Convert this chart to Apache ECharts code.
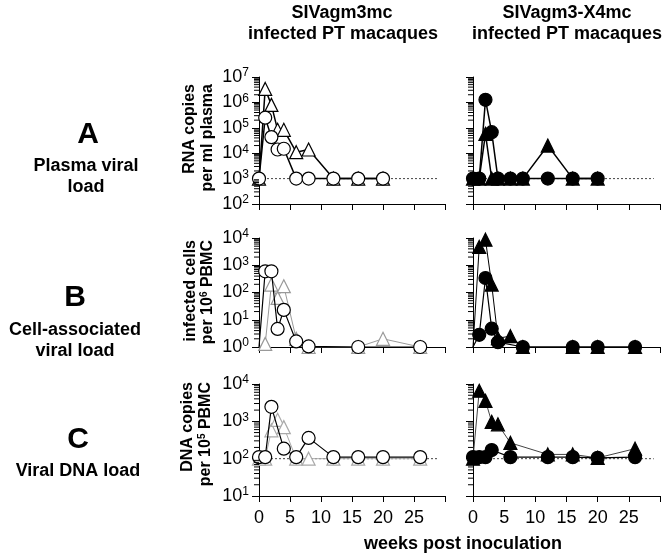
<!DOCTYPE html>
<html><head><meta charset="utf-8">
<script src="https://cdn.jsdelivr.net/npm/echarts@6/dist/echarts.min.js"></script>
<style>html,body{margin:0;padding:0;background:#fff}#c{width:664px;height:558px}</style>
</head><body><div id="c"></div>
<script>
// ---- data (weeks post inoculation / values) ----
// Row A: plasma RNA copies per ml
const aLCircW = [0,1,2,3,4,6,8,12,16,20];
const aLCirc  = [1000,250000,43000,14000,15000,1000,1000,1000,1000,1000];
const aLTriW  = [0,1,2,3,4,6,8,12,16,20];
const aLTri   = [1000,3400000,800000,83000,83000,11000,14000,1000,1000,1000];
const aRCircW = [0,1,2,3,4,6,8,12,16,20];
const aRCirc  = [1000,1000,1260000,67000,1000,1000,1000,1000,1000,1000];
const aRTriW  = [0,1,2,3,4,6,8,12,16,20];
const aRTri   = [1000,1000,58000,1000,1000,1000,1000,20000,1000,1000];
// Row B: infected cells per 10^6 PBMC
const bLCircW = [0,1,2,3,4,6,8,16,26];
const bLCirc  = [1,600,600,4.6,23,1.6,1.05,1,1];
const bLTriW  = [0,1,2,3,4,6,8,16,20,26];
const bLTri   = [1,1.3,195,63,170,2,1,1,2,1];
const bRCircW = [0,1,2,3,4,8,16,20,26];
const bRCirc  = [1,2.8,340,4.7,1.5,1,1,1,1];
const bRTriW  = [0,1,2,3,4,6,8,16,20,26];
const bRTri   = [1,4700,8700,195,2.1,2.5,1,1,1,1];
// Row C: DNA copies per 10^5 PBMC
const cLCircW = [0,1,2,4,6,8,12,16,20,26];
const cLCirc  = [110,110,2450,185,110,360,110,110,110,110];
const cLTriW  = [0,1,2,3,4,6,8,12,16,20,26];
const cLTri   = [100,100,575,1100,700,100,100,100,100,100,100];
const cRCircW = [0,1,2,3,6,12,16,20,26];
const cRCirc  = [110,110,110,170,110,110,110,105,110];
const cRTriW  = [0,1,2,3,4,6,12,16,20,26];
const cRTri   = [100,6600,3550,970,830,265,130,130,105,185];
// detection limits
const detA = 1000, detC = 100;
const xTicks = [0,5,10,15,20,25];
const minorMult = [2,3,4,5,6,7,8,9];

const FONT = 'Liberation Sans';
const chart = echarts.init(document.getElementById('c'), null, {renderer:'canvas'});

const colL = {left:259, width:186}, colR = {left:473, width:187};
const rows = [{top:77,height:127,min:1e2,max:1e7,e0:2,e1:7},{top:238,height:109,min:1,max:1e4,e0:0,e1:4},{top:384,height:112,min:10,max:1e4,e0:1,e1:4}];
const grids=[], xAxes=[], yAxes=[], gridExp=[];
rows.forEach((r,ri)=>{
  [colL,colR].forEach((c,ci)=>{
    grids.push({left:c.left,width:c.width,top:r.top,height:r.height,containLabel:false});
    const idx = grids.length-1;
    gridExp.push([r.e0,r.e1]);
    xAxes.push({type:'value',gridIndex:idx,min:0,max:30,interval:5,
      axisLine:{show:true,lineStyle:{color:'#000',width:1}},
      axisTick:{show:true,length:6,lineStyle:{color:'#000'}},
      splitLine:{show:false},
      axisLabel:{show:ri===2,margin:13,fontFamily:FONT,fontSize:18,color:'#000',
        formatter:v=>xTicks.indexOf(v)>=0?String(v):''}});
    yAxes.push({type:'log',logBase:10,gridIndex:idx,min:r.min,max:r.max,
      axisLine:{show:true,lineStyle:{color:'#000',width:1}},
      axisTick:{show:true,length:7,lineStyle:{color:'#000'}},
      splitLine:{show:false},
      axisLabel:{show:ci===0,margin:10,color:'#000',
        formatter:v=>'{b|10}{s|'+Math.round(Math.log10(v))+'}',
        rich:{b:{fontFamily:FONT,fontSize:18,color:'#000',lineHeight:20},
              s:{fontFamily:FONT,fontSize:12,color:'#000',verticalAlign:'top',lineHeight:20}}}});
  });
});

function pts(w,v){ return w.map((x,i)=>[x,v[i]]); }
function hideFirst(arr){ return arr.map((p,i)=>i===0?{value:p,symbol:'none'}:p); }
function ser(idx,data,sym,fill,stroke,lw,lineColor,z){
  return {type:'line',xAxisIndex:idx,yAxisIndex:idx,data:data,symbol:sym,symbolSize:13,
    showSymbol:true,animation:false,z:z,
    itemStyle:{color:fill,borderColor:stroke,borderWidth:1.2,opacity:1},
    lineStyle:{color:lineColor,width:lw}};
}
function det(idx,v){
  return {type:'line',xAxisIndex:idx,yAxisIndex:idx,data:[[0,v],[29,v]],symbol:'none',animation:false,z:1,
    lineStyle:{color:'#444',width:1,type:[2,2]}};
}
const series = [
  det(0,detA), det(1,detA), det(4,detC), det(5,detC),
  // A left
  ser(0,pts(aLTriW,aLTri),'triangle','#fff','#000',1.5,'#000',3),
  ser(0,pts(aLCircW,aLCirc),'circle','#fff','#000',1.5,'#000',4),
  // A right
  ser(1,pts(aRTriW,aRTri),'triangle','#000','#000',1.5,'#000',3),
  ser(1,pts(aRCircW,aRCirc),'circle','#000','#000',1.5,'#000',4),
  // B left
  ser(2,hideFirst(pts(bLTriW,bLTri)),'triangle','#fff','#999',1,'#999',3),
  ser(2,hideFirst(pts(bLCircW,bLCirc)),'circle','#fff','#000',1.2,'#000',4),
  // B right
  ser(3,hideFirst(pts(bRTriW,bRTri)),'triangle','#000','#000',1,'#000',3),
  ser(3,hideFirst(pts(bRCircW,bRCirc)),'circle','#000','#000',1.2,'#000',4),
  // C left
  ser(4,pts(cLTriW,cLTri),'triangle','#fff','#aaa',1,'#aaa',3),
  ser(4,pts(cLCircW,cLCirc),'circle','#fff','#000',1.2,'#000',4),
  // C right
  ser(5,pts(cRTriW,cRTri),'triangle','#000','#000',1,'#444',3),
  ser(5,pts(cRCircW,cRCirc),'circle','#000','#000',1.2,'#000',4)
];

function txt(x,y,t,size,rot,rich,align){
  return {type:'text',x:x,y:y,rotation:rot||0,silent:true,
    style:{text:t,fontFamily:FONT,fontWeight:'bold',fontSize:size,fill:'#000',
      align:align||'center',verticalAlign:'middle',rich:rich||undefined}};
}
const supRich = {a:{fontFamily:FONT,fontWeight:'bold',fontSize:16,fill:'#000',lineHeight:18},
                 s:{fontFamily:FONT,fontWeight:'bold',fontSize:10,fill:'#000',verticalAlign:'top',lineHeight:18}};
const R = Math.PI/2;
const graphic = [
  txt(342,13,'SIVagm3mc',18), txt(343,34,'infected PT macaques',18),
  txt(567,13,'SIVagm3-X4mc',18), txt(567,34,'infected PT macaques',18),
  txt(88,135,'A',30), txt(86,166,'Plasma viral',18), txt(86,187,'load',18),
  txt(75,298,'B',30), txt(75,330,'Cell-associated',18), txt(75,351,'viral load',18),
  txt(78,440,'C',30), txt(78,471,'Viral DNA load',18),
  txt(190,84,'RNA copies',16,R,null,'right'), txt(208,84,'per ml plasma',16,R,null,'right'),
  txt(191,240,'infected cells',16,R,null,'right'), txt(208,240,'{a|per 10}{s|6}{a| PBMC}',16,R,supRich,'right'),
  txt(188,382,'DNA copies',16,R,null,'right'), txt(206,382,'{a|per 10}{s|5}{a| PBMC}',16,R,supRich,'right'),
  txt(463,544,'weeks post inoculation',18)
];

chart.setOption({animation:false,backgroundColor:'#fff',grid:grids,xAxis:xAxes,yAxis:yAxes,series:series,graphic:graphic});

// log-scale minor ticks, positioned through the chart's own axes
const ticks = [];
gridExp.forEach((ex,gi)=>{
  for(let e=ex[0];e<ex[1];e++){
    minorMult.forEach(m=>{
      const p = chart.convertToPixel({gridIndex:gi},[0,m*Math.pow(10,e)]);
      if(p && isFinite(p[0]) && isFinite(p[1])){
        ticks.push({type:'line',silent:true,z:10,
          shape:{x1:p[0]-5,y1:p[1],x2:p[0],y2:p[1]},style:{stroke:'#000',lineWidth:1}});
      }
    });
  }
});
chart.setOption({graphic:graphic.concat(ticks)});
</script></body></html>
